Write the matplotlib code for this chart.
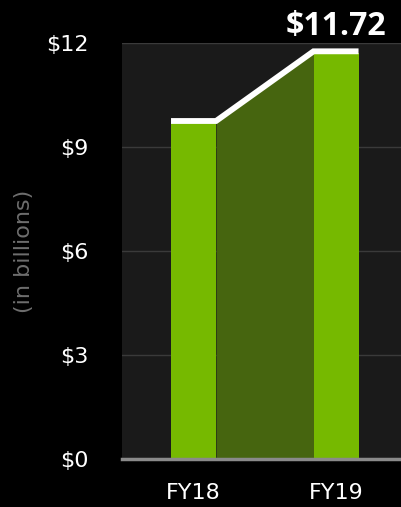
import matplotlib
matplotlib.use("Agg")
import matplotlib.pyplot as plt

years = ["FY18", "FY19"]
revenue = [9.71, 11.72]
yticks = [0, 3, 6, 9, 12]
ytick_labels = ["$0", "$3", "$6", "$9", "$12"]

green = "#76b900"
dark_green = "#46650f"

plt.rcParams["font.family"] = ["DejaVu Sans"]

fig = plt.figure(figsize=(4.01, 5.07), dpi=100, facecolor="black")
ax = fig.add_axes([122 / 401, 48 / 507, 279 / 401, 416 / 507])
ax.set_facecolor("#1a1a1a")

x = list(range(len(years)))
w = 0.316

# shaded area between the two bars, under the top line
x_left = x[0] + w / 2
x_right = x[1] - w / 2
ax.fill_between([x_left, x_right], [revenue[0], revenue[1]], 0,
                color=dark_green, lw=0, zorder=2)

ax.bar(x, revenue, width=w, color=green, zorder=3)

# white line across the bar tops
lx = [x[0] - w / 2, x[0] + w / 2, x[1] - w / 2, x[1] + w / 2]
ly = [revenue[0], revenue[0], revenue[1], revenue[1]]
ax.plot(lx, [v + 0.04 for v in ly], color="white", lw=4.2,
        solid_joinstyle="miter", solid_capstyle="butt", zorder=4)

ax.annotate(f"${revenue[-1]:.2f}", xy=(x[-1], revenue[-1]), xytext=(0, 13),
            textcoords="offset points", ha="center", va="baseline",
            color="white", fontsize=23, fontweight="bold",
            family=["Open Sans", "DejaVu Sans"], annotation_clip=False)

ax.set_xlim(-0.502, 1.456)
ax.set_ylim(0, 12)
ax.set_yticks(yticks)
ax.set_yticklabels(ytick_labels)
ax.set_xticks(x)
ax.set_xticklabels(years)
ax.tick_params(axis="y", length=0, pad=24, colors="white", labelsize=16)
ax.tick_params(axis="x", length=0, pad=17, colors="white", labelsize=16)

ax.grid(axis="y", color="#3a3a3a", lw=1, zorder=1)
ax.set_axisbelow(True)
for s in ["top", "right", "left"]:
    ax.spines[s].set_visible(False)
ax.spines["bottom"].set_color("#8a8a8a")
ax.spines["bottom"].set_linewidth(2.5)
ax.spines["bottom"].set_zorder(5)

ax.set_ylabel("(in billions)", color="#6e6e6e", fontsize=16)
ax.yaxis.set_label_coords(-0.315, 0.5)

fig.savefig("out.png", dpi=100, facecolor="black")
